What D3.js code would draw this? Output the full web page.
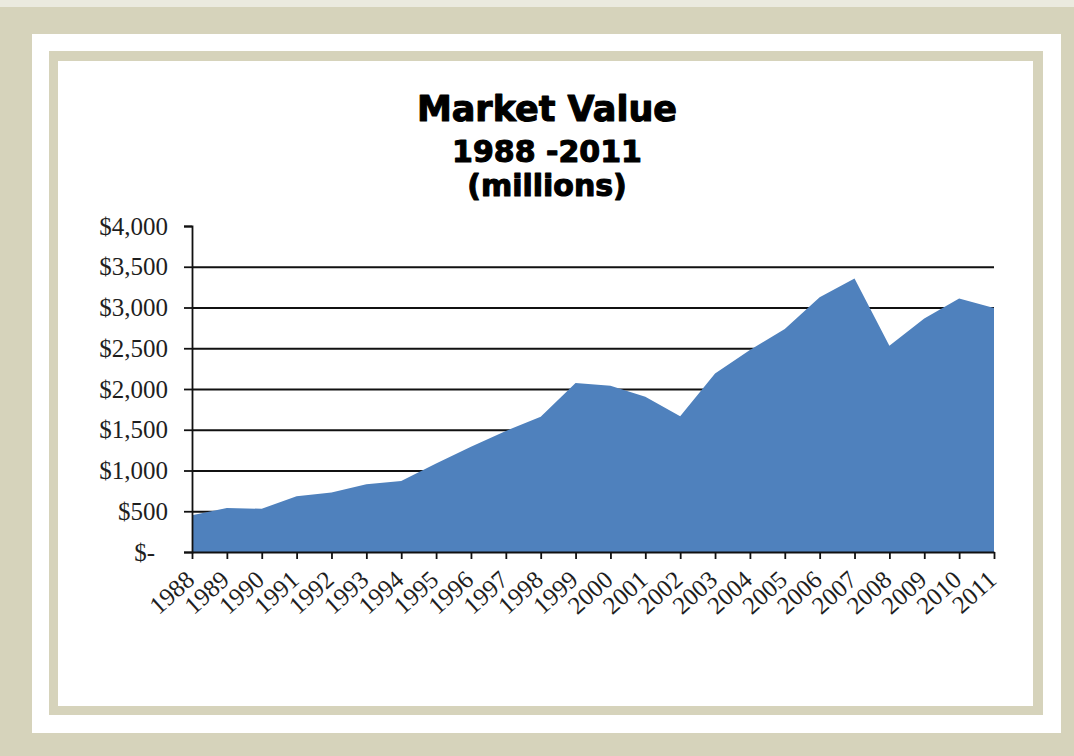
<!DOCTYPE html>
<html>
<head>
<meta charset="utf-8">
<script src="https://cdn.jsdelivr.net/npm/d3@7"></script>
<style>
  html, body { margin: 0; padding: 0; background: #d6d3bb; }
  svg { display: block; }
</style>
</head>
<body>
<svg id="chart" width="1074" height="756"></svg>
<script>
// Market value by year, in millions of dollars
const years = ["1988","1989","1990","1991","1992","1993","1994","1995","1996","1997","1998","1999",
               "2000","2001","2002","2003","2004","2005","2006","2007","2008","2009","2010","2011"];
const marketValue = [450, 540, 530, 685, 730, 830, 870, 1085, 1290, 1485, 1660, 2075,
                     2040, 1905, 1665, 2190, 2480, 2735, 3125, 3355, 2530, 2865, 3110, 2995];
const yTicks = [0, 500, 1000, 1500, 2000, 2500, 3000, 3500, 4000];
const gridValues = [500, 1000, 1500, 2000, 2500, 3000, 3500];
const titleLines = ["Market Value", "1988 -2011", "(millions)"];

const svg = d3.select("#chart");
const W = 1074, H = 756;

// Framed background: outer beige, white mat, inner beige rule, white card
svg.append("rect").attr("width", W).attr("height", H).attr("fill", "#d6d3bb");
svg.append("rect").attr("width", W).attr("height", 7).attr("fill", "#ebeadf");
svg.append("rect").attr("x", 32).attr("y", 34).attr("width", 1029).attr("height", 699).attr("fill", "#ffffff");
svg.append("rect").attr("x", 49).attr("y", 51).attr("width", 994).attr("height", 664).attr("fill", "#d6d3bb");
svg.append("rect").attr("x", 58).attr("y", 61).attr("width", 975).attr("height", 645).attr("fill", "#ffffff");

// Title, heavy weight
const titleSizes = [35, 30, 30];
const titleBaselines = [121, 162, 196];
svg.append("g")
  .selectAll("text")
  .data(titleLines)
  .join("text")
  .attr("x", 547)
  .attr("y", (d, i) => titleBaselines[i])
  .attr("text-anchor", "middle")
  .attr("font-family", "'DejaVu Sans', sans-serif")
  .attr("font-weight", "bold")
  .attr("font-size", (d, i) => titleSizes[i])
  .attr("fill", "#000")
  .attr("stroke", "#000")
  .attr("stroke-width", 1.1)
  .attr("stroke-linejoin", "round")
  .text(d => d);

// Scales
const x = d3.scalePoint().domain(years).range([192, 994]);
const y = d3.scaleLinear().domain([0, 4000]).range([552, 226]);

// Horizontal gridlines (drawn beneath the area)
svg.append("g")
  .attr("transform", "translate(192,0)")
  .call(d3.axisLeft(y).tickValues(gridValues).tickSize(-(994 - 192)).tickFormat(""))
  .call(g => g.select(".domain").remove())
  .call(g => g.selectAll("line").attr("stroke", "#111").attr("stroke-width", 1.8));

// Area
const area = d3.area()
  .x((d, i) => x(years[i]))
  .y0(y(0))
  .y1(d => y(d));
svg.append("path")
  .datum(marketValue)
  .attr("d", area)
  .attr("fill", "#4f81bd");

const serif = "'Liberation Serif', 'Times New Roman', serif";

// Y axis
const yAxis = svg.append("g")
  .attr("transform", "translate(192,0)")
  .call(d3.axisLeft(y)
    .tickValues(yTicks)
    .tickSize(8)
    .tickPadding(16)
    .tickFormat(v => v === 0 ? "$-" : "$" + d3.format(",")(v)));
yAxis.select(".domain").attr("stroke", "#111").attr("stroke-width", 1.8);
yAxis.selectAll("line").attr("stroke", "#111").attr("stroke-width", 1.8);
yAxis.selectAll("text")
  .attr("font-family", serif)
  .attr("font-size", 25)
  .attr("fill", "#1e1e1e")
  .attr("dx", v => v === 0 ? -13 : 0);

// X axis
const xAxis = svg.append("g")
  .attr("transform", "translate(0,552)")
  .call(d3.axisBottom(x).tickSize(7).tickSizeOuter(0).tickFormat(""));
xAxis.select(".domain").attr("stroke", "#111").attr("stroke-width", 1.8);
xAxis.selectAll("line").attr("stroke", "#111").attr("stroke-width", 1.8);

// Rotated year labels
svg.append("g")
  .selectAll("text")
  .data(years)
  .join("text")
  .attr("transform", d => `translate(${x(d) + 4},582) rotate(-42)`)
  .attr("text-anchor", "end")
  .attr("font-family", serif)
  .attr("font-size", 25)
  .attr("fill", "#1e1e1e")
  .text(d => d);
</script>
</body>
</html>
